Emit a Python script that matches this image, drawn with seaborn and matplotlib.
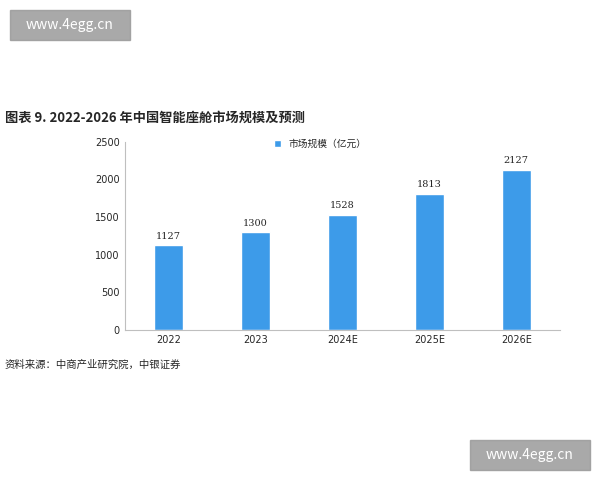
import matplotlib
matplotlib.use("Agg")
import matplotlib.pyplot as plt
import seaborn as sns
import pandas as pd

years = ["2022", "2023", "2024E", "2025E", "2026E"]
values = [1127, 1300, 1528, 1813, 2127]
yticks = [0, 500, 1000, 1500, 2000, 2500]

sns.set_style("white")
plt.rcParams['font.family'] = ['Noto Sans CJK SC', 'DejaVu Sans']

df = pd.DataFrame({"year": years, "value": values})
fig = plt.figure(figsize=(6, 4.8), dpi=100)
ax = fig.add_axes([0.208, 0.3125, 0.725, 0.392])
sns.barplot(data=df, x="year", y="value", color="#3d9be9", width=0.33, ax=ax,
            label="市场规模（亿元）", saturation=1)
for i, v in enumerate(values):
    ax.text(i, v + 60, str(v), ha="center", va="bottom", fontsize=7, family="DejaVu Serif")
ax.set_ylim(0, 2500)
ax.set_yticks(yticks)
ax.tick_params(labelsize=7, length=0)
for lab in ax.get_xticklabels() + ax.get_yticklabels():
    lab.set_family("DejaVu Sans")
ax.set_xlabel("")
ax.set_ylabel("")
for s in ["top", "right"]:
    ax.spines[s].set_visible(False)
for s in ["left", "bottom"]:
    ax.spines[s].set_color("#bfbfbf")
ax.legend(loc="upper center", bbox_to_anchor=(0.45, 1.06), frameon=False, fontsize=7,
          handlelength=0.7, handleheight=0.7)

fig.text(0.008, 0.755, "图表 9. 2022-2026 年中国智能座舱市场规模及预测", fontsize=9.5,
         fontweight="bold", va="center")
fig.text(0.008, 0.24, "资料来源：中商产业研究院，中银证券", fontsize=7.5, style="italic", va="center")

fig.patches.append(plt.Rectangle((10/600, 1-40/480), 120/600, 30/480, transform=fig.transFigure,
                                 color="#9a9a9a", alpha=0.85))
fig.text(70/600, 1-25/480, "www.4egg.cn", color="white", fontsize=10, ha="center", va="center")
fig.patches.append(plt.Rectangle((470/600, 1-470/480), 120/600, 30/480, transform=fig.transFigure,
                                 color="#9a9a9a", alpha=0.85))
fig.text(530/600, 1-455/480, "www.4egg.cn", color="white", fontsize=10, ha="center", va="center")

fig.savefig("out.png", dpi=100)
